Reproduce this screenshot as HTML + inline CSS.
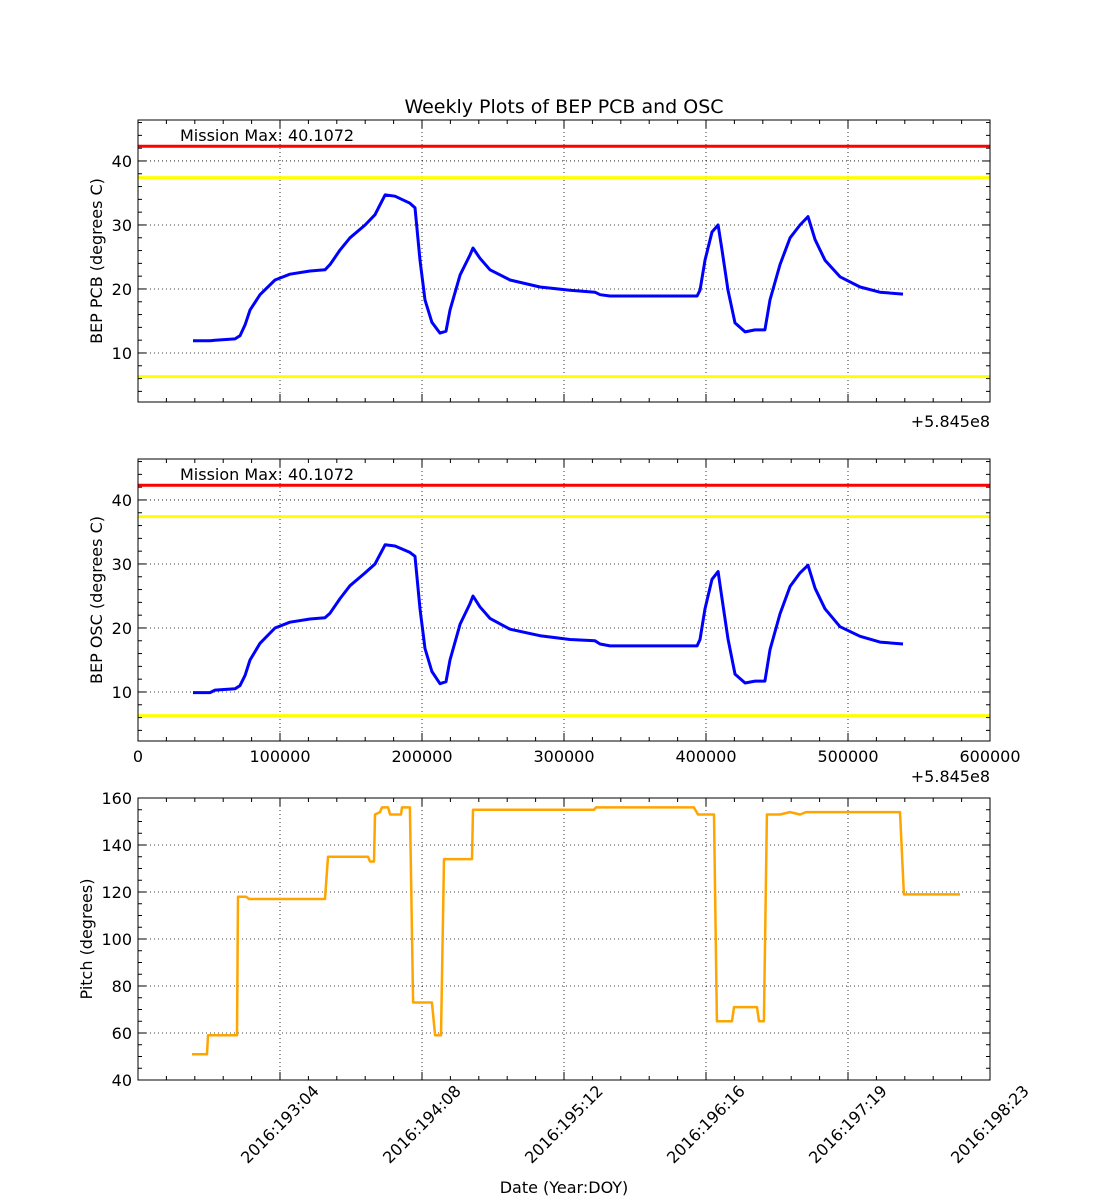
<!DOCTYPE html>
<html><head><meta charset="utf-8"><style>
body{margin:0;background:#fff;}
svg{display:block;font-family:"DejaVu Sans","Liberation Sans",sans-serif;}
</style></head><body>
<svg id="chart" width="1100" height="1200" xmlns="http://www.w3.org/2000/svg"></svg>
<script>
// ---- data (x in thousands of seconds offset from 5.845e8) ----
const tempX = [38.7,50.7,54.2,68.3,71.8,75.4,78.9,85.9,96.5,107.0,121.1,131.7,135.2,142.3,149.3,159.9,166.9,174.0,181.0,191.5,195.1,198.6,202.1,207.0,212.7,216.9,219.7,226.8,233.8,235.9,240.8,247.9,262.0,283.1,304.2,321.8,325.4,332.4,360.6,393.7,395.8,399.3,404.2,408.5,411.3,415.5,420.4,427.5,434.5,441.5,445.1,452.1,459.2,466.2,471.8,476.8,483.8,494.4,508.5,522.5,538.7];
const pcbY = [11.9,11.9,12.0,12.2,12.7,14.4,16.7,19.1,21.4,22.3,22.8,23.0,23.8,26.1,28.0,30.0,31.6,34.7,34.5,33.4,32.7,24.5,18.3,14.8,13.1,13.4,16.7,22.2,25.3,26.4,24.8,23.0,21.4,20.3,19.8,19.5,19.1,18.9,18.9,18.9,19.8,24.5,28.9,30.0,26.1,19.8,14.7,13.3,13.6,13.6,18.3,23.8,28.0,30.0,31.3,27.7,24.5,21.9,20.3,19.5,19.2];
const oscY = [9.9,9.9,10.3,10.5,11.0,12.6,15.0,17.6,20.0,20.9,21.4,21.6,22.3,24.6,26.6,28.6,30.0,33.0,32.8,31.8,31.2,23.0,16.8,13.2,11.3,11.6,15.0,20.6,23.8,25.0,23.3,21.5,19.8,18.8,18.2,18.0,17.5,17.2,17.2,17.2,18.2,23.0,27.6,28.8,24.6,18.3,12.8,11.4,11.7,11.7,16.6,22.2,26.5,28.6,29.8,26.2,23.0,20.2,18.7,17.8,17.5];
const pitchX = [38.0,48.6,49.3,69.7,70.4,76.1,78.2,131.7,133.8,162.0,163.4,166.2,166.9,170.4,171.8,176.1,177.5,185.2,185.9,191.5,193.7,207.0,209.2,213.4,215.5,235.2,235.9,321.1,322.5,391.5,394.4,405.6,407.7,418.3,419.7,435.9,437.3,440.8,442.9,452.1,459.2,466.2,470.4,536.6,539.4,578.9];
const pitchY = [51,51,59,59,118,118,117,117,135,135,133,133,153,154,156,156,153,153,156,156,73,73,59,59,134,134,155,155,156,156,153,153,65,65,71,71,65,65,153,153,154,153,154,154,119,119];
const xTicks = [0,100000,200000,300000,400000,500000,600000];
const tempTicks = [10,20,30,40];
const pitchTicks = [40,60,80,100,120,140,160];
const dateLabels = ["2016:193:04","2016:194:08","2016:195:12","2016:196:16","2016:197:19","2016:198:23"];
const limits = {red:42.3, yHi:37.4, yLo:6.3};

const NS="http://www.w3.org/2000/svg";
const svg=document.getElementById('chart');
function el(t,a,p){const e=document.createElementNS(NS,t);for(const k in a)e.setAttribute(k,a[k]);(p||svg).appendChild(e);return e;}
const L=138,R=990;
const xs=v=>L+(v-0)/600*(R-L); // v in thousands
function panel(top,bot,yMin,yMax,name){
  const ys=v=>bot-(v-yMin)/(yMax-yMin)*(bot-top);
  const g=el('g',{});
  
  
  return {g,ys,top,bot};
}
function frame(p,yTicks,yMinorStep,yMin,yMax){
  const {g,ys,top,bot}=p;
  xTicks.forEach(t=>{const x=xs(t/1000);if(x>L&&x<R)el('line',{x1:x,x2:x,y1:top,y2:bot,stroke:'#000','stroke-dasharray':'1,3','stroke-width':0.8},g);});
  yTicks.forEach(t=>{const y=ys(t);if(y>top+0.5&&y<bot-0.5)el('line',{x1:L,x2:R,y1:y,y2:y,stroke:'#000','stroke-dasharray':'1,3','stroke-width':0.8},g);});
  for(let v=0;v<=600;v+=20){const x=xs(v);const big=v%100===0;const len=big?8:4;
    el('line',{x1:x,x2:x,y1:bot,y2:bot-len,stroke:'#000'},g);el('line',{x1:x,x2:x,y1:top,y2:top+len,stroke:'#000'},g);}
  for(let v=Math.ceil(yMin/yMinorStep)*yMinorStep;v<=yMax;v+=yMinorStep){const y=ys(v);const big=yTicks.includes(Math.round(v));const len=big?8:4;
    el('line',{x1:L,x2:L+len,y1:y,y2:y,stroke:'#000'},g);el('line',{x1:R,x2:R-len,y1:y,y2:y,stroke:'#000'},g);}
  yTicks.forEach(t=>{const y=ys(t);if(y>=top-1&&y<=bot+1){const tx=el('text',{x:L-6,y:y+6,'text-anchor':'end','font-size':16},g);tx.textContent=t;}});
}
function border(p){el('rect',{x:L,y:p.top,width:R-L,height:p.bot-p.top,fill:'none',stroke:'#000','stroke-width':1},p.g);}
function line(p,xsArr,ysArr,color,w,name){
  const d=xsArr.map((x,i)=>(i?'L':'M')+xs(x).toFixed(1)+','+p.ys(ysArr[i]).toFixed(1)).join('');
  const e=el('path',{d,fill:'none',stroke:color,'stroke-width':w,'stroke-linejoin':'round'},p.g);
  
  
}
function tempPanel(top,bot,yArr,label,name){
  const p=panel(top,bot,2.34,46.4,name);
  frame(p,tempTicks,2,2.34,46.4);
  [['red',limits.red,'red-limit-line'],['#ffff00',limits.yHi,'yellow-upper-limit'],['#ffff00',limits.yLo,'yellow-lower-limit']].forEach(([c,v,n])=>{
    const e=el('line',{x1:L,x2:R,y1:p.ys(v),y2:p.ys(v),stroke:c,'stroke-width':3},p.g);
    });
  line(p,tempX,yArr,'#0000ff',3,'temperature-series');
  border(p);
  const mm=el('text',{x:180,y:top+21,'font-size':16},p.g);mm.textContent='Mission Max: 40.1072';
  
  const yl=el('text',{x:0,y:0,'font-size':16,'text-anchor':'middle',transform:`translate(102,${(top+bot)/2}) rotate(-90)`},p.g);yl.textContent=label;
  
  const off=el('text',{x:R,y:bot+25,'font-size':16,'text-anchor':'end'},p.g);off.textContent='+5.845e8';
  return p;
}
const t=el('text',{x:564,y:113,'font-size':19,'text-anchor':'middle'});t.textContent='Weekly Plots of BEP PCB and OSC';

tempPanel(120,402,pcbY,'BEP PCB (degrees C)','pcb-panel');
const p2=tempPanel(459,741,oscY,'BEP OSC (degrees C)','osc-panel');
p2.g.lastChild.setAttribute('y',782);
xTicks.forEach(v=>{const tx=el('text',{x:xs(v/1000),y:762,'font-size':16,'text-anchor':'middle'},p2.g);tx.textContent=v;});
const p3=panel(798,1080,40,160,'pitch-panel');
frame(p3,pitchTicks,5,40,160);
line(p3,pitchX,pitchY,'#ffa500',2.5,'pitch-series');
border(p3);
dateLabels.forEach((s,i)=>{const x=xs((i+1)*100);const tx=el('text',{x:0,y:0,'font-size':16,'text-anchor':'end',transform:`translate(${x+40},${1092}) rotate(-45)`},p3.g);tx.textContent=s;
  });
const yl3=el('text',{x:0,y:0,'font-size':16,'text-anchor':'middle',transform:`translate(92,939) rotate(-90)`},p3.g);yl3.textContent='Pitch (degrees)';
const xl=el('text',{x:564,y:1193,'font-size':16,'text-anchor':'middle'});xl.textContent='Date (Year:DOY)';

</script>
</body></html>
